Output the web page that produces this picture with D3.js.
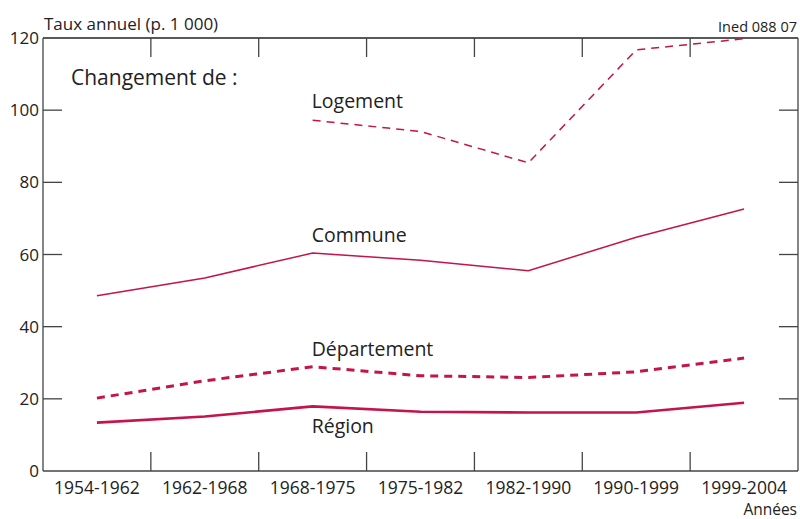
<!DOCTYPE html>
<html><head><meta charset="utf-8">
<script src="https://cdn.jsdelivr.net/npm/d3@7"></script>
<style>body{margin:0;background:#fff}svg{display:block}text{font-family:"Open Sans",sans-serif;fill:#222}</style>
</head><body>
<script>
const categories=["1954-1962","1962-1968","1968-1975","1975-1982","1982-1990","1990-1999","1999-2004"];
const yTicks=[0,20,40,60,80,100,120];
const logement=[null,null,97.2,94.1,85.4,116.7,119.8];
const commune=[48.6,53.5,60.4,58.4,55.5,64.8,72.6];
const departement=[20.2,25.0,28.9,26.4,25.9,27.5,31.3];
const region=[13.4,15.1,17.9,16.4,16.2,16.2,18.9];
const seriesLabels=["Logement","Commune","Département","Région"];

const W=800,H=519;
const m={l:43,r:2,t:38,b:48};
const svg=d3.select("body").append("svg").attr("width",W).attr("height",H);
const x=d3.scaleBand().domain(categories).range([m.l,W-m.r]);
const y=d3.scaleLinear().domain([0,120]).range([H-m.b,m.t]);
const red="#c4144b";
const axisCol="#444";

const g=svg.append("g");
g.append("line").attr("x1",m.l).attr("x2",W-m.r).attr("y1",y(120)).attr("y2",y(120)).attr("stroke","#222").attr("stroke-width",1.3);
g.append("line").attr("x1",m.l).attr("x2",W-m.r).attr("y1",y(0)).attr("y2",y(0)).attr("stroke",axisCol).attr("stroke-width",1.3);
g.append("line").attr("x1",m.l).attr("x2",m.l).attr("y1",y(0)).attr("y2",y(120)).attr("stroke",axisCol).attr("stroke-width",1.3);
g.append("line").attr("x1",W-m.r).attr("x2",W-m.r).attr("y1",y(0)).attr("y2",y(120)).attr("stroke",axisCol).attr("stroke-width",1.3);

const tl=19;
yTicks.slice(1,-1).forEach(v=>{
  g.append("line").attr("x1",m.l).attr("x2",m.l+tl).attr("y1",y(v)).attr("y2",y(v)).attr("stroke",axisCol).attr("stroke-width",1.3);
  g.append("line").attr("x1",W-m.r).attr("x2",W-m.r-tl).attr("y1",y(v)).attr("y2",y(v)).attr("stroke",axisCol).attr("stroke-width",1.3);
});
yTicks.forEach(v=>{
  g.append("text").attr("x",m.l-4).attr("y",y(v)).attr("dy","0.36em").attr("text-anchor","end").attr("font-size",17).text(v);
});
categories.slice(1).forEach(c=>{
  const xx=x(c);
  g.append("line").attr("x1",xx).attr("x2",xx).attr("y1",y(0)).attr("y2",y(0)-tl).attr("stroke",axisCol).attr("stroke-width",1.3);
  g.append("line").attr("x1",xx).attr("x2",xx).attr("y1",y(120)).attr("y2",y(120)+tl).attr("stroke",axisCol).attr("stroke-width",1.3);
});
categories.forEach(c=>{
  g.append("text").attr("x",x(c)+x.bandwidth()/2).attr("y",493.5).attr("text-anchor","middle").attr("font-size",17.5).text(c);
});

const line=d3.line().defined(d=>d!=null).x((d,i)=>x(categories[i])+x.bandwidth()/2).y(d=>y(d));
const specs=[
  {d:logement,w:1.5,dash:"8,6"},
  {d:commune,w:1.5,dash:null},
  {d:departement,w:3,dash:"8,6"},
  {d:region,w:2.6,dash:null}
];
specs.forEach(s=>{
  svg.append("path").datum(s.d).attr("d",line).attr("fill","none").attr("stroke",red)
    .attr("stroke-width",s.w).attr("stroke-dasharray",s.dash);
});

const lx=x(categories[2])+x.bandwidth()/2-1;
const labelY=[108,242,356,433];
seriesLabels.forEach((t,i)=>{
  svg.append("text").attr("x",lx).attr("y",labelY[i]).attr("font-size",19.5).text(t);
});
svg.append("text").attr("x",71).attr("y",85).attr("font-size",21).attr("font-weight",500).attr("fill","#111").text("Changement de :");
svg.append("text").attr("x",m.l+1).attr("y",30).attr("font-size",17).text("Taux annuel (p. 1 000)");
svg.append("text").attr("x",W-3).attr("y",32).attr("font-size",14.5).attr("text-anchor","end").attr("fill","#444").text("Ined 088 07");
svg.append("text").attr("x",W-3).attr("y",514.5).attr("font-size",15.5).attr("text-anchor","end").text("Années");
</script>
</body></html>
